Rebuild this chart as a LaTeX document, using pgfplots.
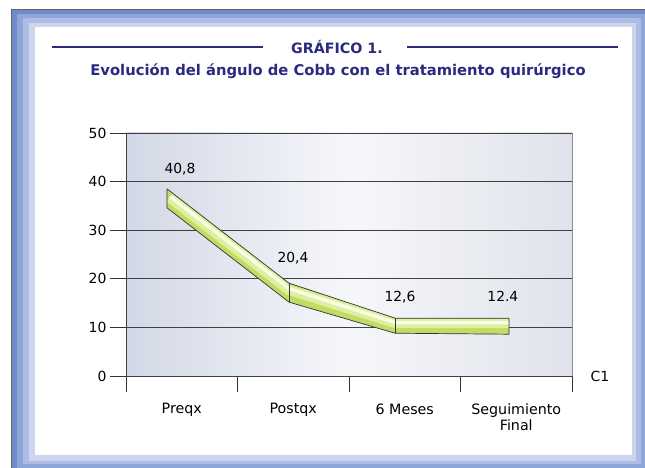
\documentclass[border=0pt]{standalone}
\usepackage{pgfplots}
\pgfplotsset{compat=1.18}
\usepackage{fontspec}
\setmainfont{DejaVu Sans}
\definecolor{titleblue}{RGB}{42,42,128}
\definecolor{frA}{RGB}{112,140,200}
\definecolor{frB}{RGB}{142,165,215}
\definecolor{frC}{RGB}{172,188,228}
\definecolor{frD}{RGB}{205,212,238}
\definecolor{bgL}{RGB}{210,216,230}
\definecolor{bgM}{RGB}{246,247,250}
\definecolor{bgR}{RGB}{224,227,235}
\definecolor{ribG}{RGB}{192,220,100}
\definecolor{ribM}{RGB}{222,240,158}
\definecolor{ribL}{RGB}{250,252,230}
\begin{document}
\begin{tikzpicture}
\begin{scope}[x=1bp,y=1bp]
\path[use as bounding box] (0,0) rectangle (645,468);
\fill[white] (0,0) rectangle (645,468);
\begin{scope}
\clip (0,0) rectangle (645,468);
\fill[frA] (11,-4) rectangle (649,458);
\fill[frB] (17,-0.25) rectangle (644.75,453.75);
\fill[frC] (23,3.5) rectangle (640.5,449.5);
\fill[frD] (29,7.25) rectangle (636.25,445.25);
\fill[white] (35,13) rectangle (632,441);
\draw[black!60, line width=1bp] (11,-4) -- (11,458) -- (649,458);
\end{scope}
\draw[titleblue, line width=1.6bp] (52,421) -- (263,421);
\draw[titleblue, line width=1.6bp] (407,421) -- (618,421);
\node[titleblue, font=\bfseries\fontsize{14.3}{17}\selectfont] at (337,421) {GRÁFICO 1.};
\node[titleblue, font=\bfseries\fontsize{14.8}{17}\selectfont] at (338,397) {Evolución del ángulo de Cobb con el tratamiento quirúrgico};
\end{scope}
\begin{axis}[at={(126bp,92bp)}, anchor=origin, scale only axis,
  width=446bp, height=243bp,
  xmin=0, xmax=4, ymin=0, ymax=50,
  ytick={0,10,...,50},
  xtick={0,1,2,3,4}, xticklabels={},
  extra x ticks={0.5,1.5,2.5,3.5},
  extra x tick labels={Preqx,Postqx,6 Meses,{Seguimiento\\Final}},
  extra x tick style={major tick length=0pt, xticklabel style={yshift=-24bp}},
  xticklabel style={align=center, font=\fontsize{14.3}{16.5}\selectfont},
  yticklabel style={font=\fontsize{14}{16}\selectfont},
  tick align=outside, tick pos=left, major tick length=16bp,
  tick style={black!80, line width=0.8bp},
  ymajorgrids, grid style={black!75, line width=0.8bp},
  axis line style={black!75, line width=0.8bp},
  /pgf/number format/assume math mode=true,
  axis background/.style={left color=bgL, right color=bgR, middle color=bgM},
  clip=false]
% ribbon body
\addplot[draw=none, fill=ribG] coordinates {(0.368,38.5) (1.462,19.1) (2.413,11.9) (3.435,11.9) (3.435,8.6) (2.413,8.8) (1.462,15.2) (0.368,34.6) (0.368,38.5)};
\addplot[ribM, line width=10bp, line join=round, shorten <=3bp] coordinates {(0.368,37.1) (1.462,17.7) (2.413,10.9) (3.435,10.9)};
\addplot[ribL, line width=3.5bp, line join=round, shorten <=4bp] coordinates {(0.368,37.4) (1.462,18.0) (2.413,11.0) (3.435,11.0)};
\addplot[black!80, line width=0.7bp, line join=miter] coordinates {(0.368,38.5) (1.462,19.1) (2.413,11.9) (3.435,11.9) (3.435,8.6) (2.413,8.8) (1.462,15.2) (0.368,34.6) (0.368,38.5)};
\addplot[black!80, line width=0.7bp] coordinates {(1.462,19.1) (1.462,15.2)};
\addplot[black!80, line width=0.7bp] coordinates {(2.413,11.9) (2.413,8.8)};
% data labels
\addplot[draw=none, mark=none, nodes near coords, point meta=explicit symbolic,
  every node near coord/.append style={anchor=center, font=\fontsize{13.9}{16}\selectfont}]
  coordinates {(0.484,42.6) [{40,8}] (1.498,24.3) [{20,4}] (2.457,16.3) [{12,6}] (3.38,16.3) [{12.4}]};
\draw[black!45, line width=0.8bp] (rel axis cs:1,0) -- (rel axis cs:1,1);
\node[font=\fontsize{14}{16}\selectfont] at (rel axis cs:1,0) [xshift=28bp] {C1};
\end{axis}
\end{tikzpicture}
\end{document}
